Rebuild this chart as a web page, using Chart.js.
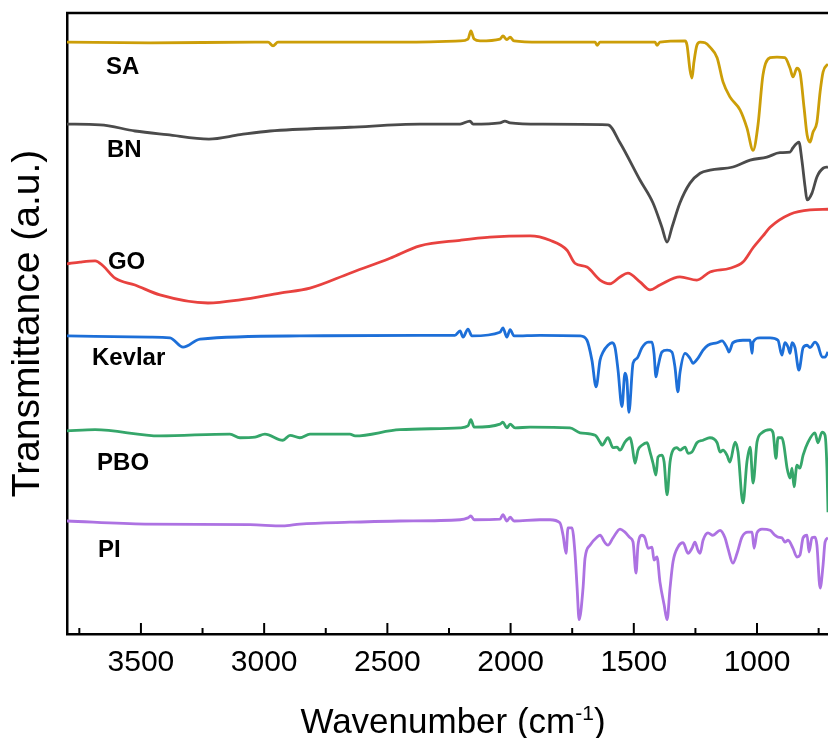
<!DOCTYPE html>
<html>
<head>
<meta charset="utf-8">
<title>FTIR spectra</title>
<script src="https://cdn.jsdelivr.net/npm/chart.js@4.4.1/dist/chart.umd.min.js"></script>
<style>
    html, body { margin: 0; padding: 0; background: #fff; overflow: hidden; }
    #wrap { position: relative; width: 828px; height: 738px; }
</style>
</head>
<body>
<div id="wrap"><canvas id="ftirChart"></canvas></div>
<script>
// wavenumber (cm-1) and offset transmittance (a.u.) for every sample
const saWn = [3800, 3463, 3037, 2984, 2964, 2944, 2449, 2205, 2173, 2161, 2148, 2124, 2043, 2031, 2015, 2002, 1986, 1881, 1657, 1649, 1637, 1414, 1406, 1394, 1292, 1284, 1272, 1264, 1256, 1244, 1231, 1211, 1191, 1162, 1138, 1110, 1069, 1041, 1016, 996, 976, 947, 919, 887, 866, 854, 838, 826, 809, 797, 785, 773, 757, 744, 732, 712];
const saT = [95.3, 95.2, 95.3, 95.3, 94.7, 95.3, 95.3, 95.5, 95.8, 97.1, 95.8, 95.5, 95.8, 96.3, 95.7, 96.1, 95.5, 95.3, 95.3, 94.8, 95.3, 95.3, 94.8, 95.3, 95.5, 94.8, 90.8, 89.5, 92.1, 94.8, 95.3, 95.2, 94.5, 92.8, 88.9, 86.5, 84.4, 81.5, 77.9, 82.0, 90.0, 92.8, 92.9, 92.8, 91.1, 89.7, 91.1, 90.5, 84.7, 80.4, 79.2, 80.8, 82.4, 87.3, 90.5, 91.8];

const bnWn = [3800, 3666, 3524, 3394, 3224, 3098, 2976, 2652, 2368, 2205, 2165, 2152, 2043, 2023, 2002, 1881, 1605, 1556, 1475, 1422, 1386, 1365, 1345, 1313, 1272, 1231, 1191, 1098, 1028, 960, 907, 866, 854, 830, 818, 805, 797, 777, 757, 732, 712];
const bnT = [82.1, 82.0, 81.0, 80.4, 79.7, 80.4, 81.0, 81.6, 82.1, 82.1, 82.6, 82.1, 82.3, 82.6, 82.3, 82.1, 82.0, 79.1, 73.1, 69.4, 65.5, 63.1, 65.5, 69.4, 72.6, 74.2, 74.7, 75.2, 76.3, 76.8, 77.5, 77.6, 78.3, 79.2, 76.3, 72.0, 69.9, 71.0, 73.6, 75.0, 75.2];

const goWn = [3800, 3747, 3686, 3654, 3605, 3524, 3423, 3228, 3098, 2936, 2814, 2652, 2489, 2368, 2205, 2084, 1921, 1840, 1771, 1739, 1690, 1637, 1597, 1556, 1524, 1475, 1434, 1394, 1313, 1244, 1191, 1110, 1057, 1016, 976, 947, 866, 785, 712];
const goT = [59.6, 59.9, 60.1, 59.3, 57.3, 56.2, 54.6, 53.3, 53.8, 54.9, 55.7, 58.1, 60.5, 62.5, 63.4, 63.9, 64.1, 63.4, 61.8, 59.7, 59.1, 57.0, 56.4, 57.5, 58.1, 56.7, 55.4, 56.2, 57.5, 57.0, 58.3, 58.9, 59.9, 62.2, 64.1, 65.5, 67.6, 68.3, 68.4];

const kevlarWn = [3800, 3463, 3382, 3329, 3260, 2855, 2368, 2226, 2205, 2193, 2173, 2157, 2043, 2031, 2015, 2002, 1986, 1881, 1718, 1690, 1670, 1653, 1637, 1625, 1605, 1588, 1576, 1564, 1548, 1536, 1528, 1520, 1503, 1487, 1467, 1442, 1426, 1418, 1410, 1402, 1386, 1365, 1345, 1333, 1321, 1313, 1292, 1272, 1260, 1240, 1219, 1199, 1162, 1142, 1122, 1114, 1098, 1057, 1028, 1020, 1016, 988, 947, 915, 899, 887, 874, 866, 858, 846, 830, 813, 797, 785, 765, 753, 736, 724, 712];
const kevlarT = [48.0, 47.8, 47.7, 46.2, 47.5, 48.0, 48.1, 48.1, 48.8, 47.8, 49.1, 48.0, 48.6, 49.3, 47.8, 49.0, 48.0, 48.1, 48.0, 47.3, 44.1, 39.8, 44.1, 45.4, 46.5, 46.9, 46.1, 42.5, 36.6, 42.0, 40.9, 35.7, 43.6, 44.4, 46.1, 47.0, 47.0, 45.2, 41.4, 43.0, 45.4, 45.7, 45.4, 43.0, 39.0, 42.0, 45.2, 44.4, 43.6, 44.4, 45.7, 46.5, 46.9, 47.2, 46.1, 45.4, 46.9, 47.3, 47.3, 45.2, 47.0, 47.7, 47.7, 47.3, 44.9, 46.9, 46.2, 45.2, 46.9, 46.1, 42.5, 46.1, 46.5, 46.1, 47.0, 46.5, 44.6, 44.6, 45.4];

const pboWn = [3800, 3686, 3423, 3139, 3098, 3037, 2997, 2924, 2895, 2855, 2814, 2652, 2631, 2449, 2205, 2173, 2161, 2148, 2043, 2031, 2015, 2002, 1982, 1921, 1759, 1718, 1657, 1637, 1629, 1605, 1584, 1568, 1556, 1536, 1515, 1507, 1495, 1483, 1467, 1446, 1434, 1422, 1410, 1402, 1386, 1377, 1365, 1353, 1341, 1325, 1313, 1292, 1280, 1264, 1244, 1219, 1191, 1162, 1150, 1138, 1122, 1110, 1089, 1077, 1057, 1041, 1028, 1016, 1000, 980, 947, 935, 923, 915, 899, 891, 878, 866, 858, 850, 838, 826, 813, 793, 765, 753, 736, 724, 716, 712];
const pboT = [32.7, 32.9, 31.9, 32.2, 31.6, 31.7, 32.2, 31.2, 32.0, 31.6, 32.2, 32.2, 31.9, 32.9, 33.2, 33.5, 34.5, 33.3, 33.8, 34.1, 33.2, 33.8, 33.2, 33.3, 33.2, 32.4, 32.0, 30.9, 30.4, 31.6, 30.0, 30.1, 29.6, 30.9, 31.6, 30.4, 27.5, 29.6, 30.4, 30.8, 29.3, 27.5, 25.6, 28.5, 28.8, 27.7, 22.4, 27.7, 29.6, 30.0, 29.6, 30.1, 29.1, 29.3, 30.8, 31.2, 31.6, 30.8, 29.3, 29.6, 28.8, 27.7, 30.9, 29.3, 21.1, 27.7, 30.1, 24.3, 30.9, 32.4, 32.9, 32.4, 28.3, 31.6, 31.6, 30.4, 26.7, 25.1, 26.7, 23.7, 27.2, 26.7, 28.8, 30.9, 32.4, 30.8, 32.5, 32.0, 26.4, 19.6];

const piWn = [3800, 3483, 3057, 2924, 2855, 2652, 2449, 2205, 2173, 2161, 2148, 2043, 2031, 2015, 2002, 1986, 1881, 1840, 1800, 1787, 1775, 1767, 1751, 1739, 1730, 1722, 1706, 1698, 1678, 1649, 1637, 1617, 1605, 1584, 1556, 1536, 1515, 1503, 1491, 1483, 1467, 1455, 1442, 1426, 1418, 1406, 1394, 1377, 1365, 1353, 1341, 1321, 1300, 1280, 1264, 1252, 1240, 1231, 1219, 1199, 1179, 1150, 1130, 1118, 1098, 1081, 1061, 1037, 1020, 1012, 1000, 980, 947, 927, 915, 899, 887, 874, 854, 838, 826, 813, 797, 789, 777, 765, 757, 744, 732, 724, 712];
const piT = [18.2, 17.7, 17.6, 17.4, 17.7, 18.0, 18.2, 18.4, 18.7, 19.0, 18.4, 18.5, 19.2, 18.2, 18.8, 18.2, 18.4, 18.4, 17.9, 15.9, 13.0, 17.1, 17.1, 13.2, 7.4, 2.3, 7.4, 12.2, 14.3, 15.6, 15.9, 14.7, 14.3, 15.5, 16.9, 16.4, 15.5, 14.8, 9.8, 14.3, 15.9, 15.5, 13.8, 14.0, 11.9, 12.4, 8.4, 4.7, 2.3, 7.4, 11.6, 14.0, 14.7, 13.0, 13.8, 14.8, 13.5, 13.0, 15.1, 16.3, 15.9, 16.7, 15.5, 13.8, 11.4, 13.0, 15.6, 16.4, 16.4, 13.8, 16.3, 16.9, 16.7, 15.9, 15.6, 15.5, 14.8, 15.1, 13.8, 12.4, 12.7, 15.5, 15.9, 13.2, 15.5, 15.6, 14.3, 7.4, 11.1, 14.8, 15.5];

const sampleNames = ['SA', 'BN', 'GO', 'Kevlar', 'PBO', 'PI'];
const majorTicks = [3500, 3000, 2500, 2000, 1500, 1000];
const minorTicks = [3750, 3250, 2750, 2250, 1750, 1250, 750];

const FONT = "'Liberation Sans', Arial, sans-serif";
const colors = ['#CC9E08', '#4B4B4B', '#E8423F', '#1D6FD8', '#35A66A', '#AD72E2'];
// where each name sits, in axis units (wavenumber, transmittance)
const labelAnchors = [[3642, 91.3], [3638, 77.8], [3634, 59.9], [3699, 44.4], [3678, 27.5], [3674, 13.5]];

function toPoints(wn, t) {
    return wn.map((w, i) => ({x: w, y: t[i]}));
}

const spectra = [
    toPoints(saWn, saT),
    toPoints(bnWn, bnT),
    toPoints(goWn, goT),
    toPoints(kevlarWn, kevlarT),
    toPoints(pboWn, pboT),
    toPoints(piWn, piT)
];

const frameAndLabels = {
    id: 'frameAndLabels',
    afterDraw(chart) {
        const ctx = chart.ctx;
        const area = chart.chartArea;
        const xs = chart.scales.x;
        const ys = chart.scales.y;
        ctx.save();

        // top frame line
        ctx.strokeStyle = '#000';
        ctx.lineWidth = 2.5;
        ctx.beginPath();
        ctx.moveTo(area.left - 1, area.top);
        ctx.lineTo(area.right, area.top);
        ctx.stroke();

        // inward tick marks on the bottom axis
        ctx.lineWidth = 2;
        majorTicks.concat(minorTicks).forEach(v => {
            const px = xs.getPixelForValue(v);
            const len = majorTicks.includes(v) ? 11 : 6;
            ctx.beginPath();
            ctx.moveTo(px, area.bottom);
            ctx.lineTo(px, area.bottom - len);
            ctx.stroke();
        });

        // sample names
        ctx.fillStyle = '#000';
        ctx.font = 'bold 24px ' + FONT;
        ctx.textAlign = 'left';
        ctx.textBaseline = 'middle';
        sampleNames.forEach((name, i) => {
            const [w, t] = labelAnchors[i];
            ctx.fillText(name, xs.getPixelForValue(w), ys.getPixelForValue(t));
        });

        // x axis title with superscript
        const main = 'Wavenumber (cm';
        const sup = '-1';
        const close = ')';
        ctx.textBaseline = 'alphabetic';
        ctx.font = '35px ' + FONT;
        const w1 = ctx.measureText(main).width;
        const w3 = ctx.measureText(close).width;
        ctx.font = '21px ' + FONT;
        const w2 = ctx.measureText(sup).width;
        let x = 453 - (w1 + w2 + w3) / 2;
        const base = 733;
        ctx.font = '35px ' + FONT;
        ctx.fillText(main, x, base);
        x += w1;
        ctx.font = '21px ' + FONT;
        ctx.fillText(sup, x, base - 13);
        x += w2;
        ctx.font = '35px ' + FONT;
        ctx.fillText(close, x, base);

        ctx.restore();
    }
};

new Chart(document.getElementById('ftirChart'), {
    type: 'line',
    data: {
        datasets: spectra.map((pts, i) => ({
            label: sampleNames[i],
            data: pts,
            borderColor: colors[i],
            borderWidth: 2.8,
            pointRadius: 0,
            cubicInterpolationMode: 'monotone',
            fill: false
        }))
    },
    options: {
        responsive: true,
        maintainAspectRatio: false,
        animation: false,
        layout: {padding: {top: 13, left: 0, right: 0, bottom: 0}},
        plugins: {
            legend: {display: false},
            tooltip: {enabled: false}
        },
        scales: {
            x: {
                type: 'linear',
                reverse: true,
                min: 712,
                max: 3800,
                afterBuildTicks: scale => {
                    scale.ticks = majorTicks.map(v => ({value: v}));
                },
                afterFit: scale => {
                    scale.height = 104;
                },
                ticks: {
                    autoSkip: false,
                    maxRotation: 0,
                    padding: 11,
                    color: '#000',
                    font: {family: FONT, size: 30},
                    callback: value => String(value)
                },
                grid: {display: false, drawTicks: false},
                border: {display: true, color: '#000', width: 2.5}
            },
            y: {
                min: 0,
                max: 100,
                afterFit: scale => {
                    scale.width = 67;
                },
                ticks: {display: false},
                grid: {display: false, drawTicks: false},
                border: {display: true, color: '#000', width: 2.5},
                title: {
                    display: true,
                    text: 'Transmittance (a.u.)',
                    color: '#000',
                    padding: {top: 5, bottom: 0},
                    font: {family: FONT, size: 39}
                }
            }
        }
    },
    plugins: [frameAndLabels]
});
</script>
</body>
</html>
